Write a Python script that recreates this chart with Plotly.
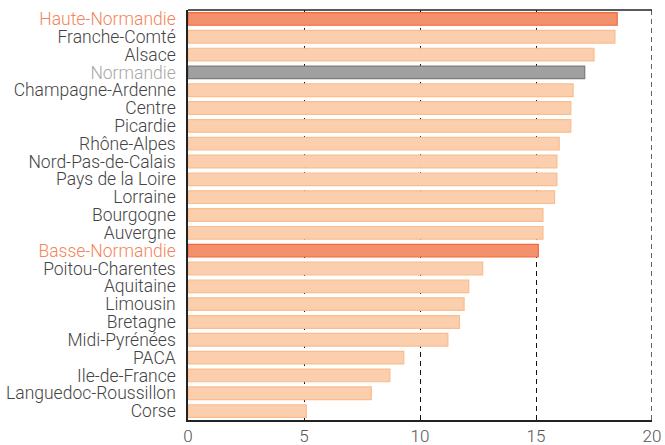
import plotly.graph_objects as go

regions = [
    "Haute-Normandie", "Franche-Comté", "Alsace", "Normandie",
    "Champagne-Ardenne", "Centre", "Picardie", "Rhône-Alpes",
    "Nord-Pas-de-Calais", "Pays de la Loire", "Lorraine", "Bourgogne",
    "Auvergne", "Basse-Normandie", "Poitou-Charentes", "Aquitaine",
    "Limousin", "Bretagne", "Midi-Pyrénées", "PACA", "Ile-de-France",
    "Languedoc-Roussillon", "Corse",
]
values = [
    18.5, 18.4, 17.5, 17.1,
    16.6, 16.5, 16.5, 16.0,
    15.9, 15.9, 15.8, 15.3,
    15.3, 15.1, 12.7, 12.1,
    11.9, 11.7, 11.2, 9.3, 8.7,
    7.9, 5.1,
]
highlight = ["Haute-Normandie", "Basse-Normandie"]
reference = ["Normandie"]
x_ticks = [0, 5, 10, 15, 20]

fills, edges, label_colors = [], [], []
for r in regions:
    if r in highlight:
        fills.append("#f5906c"); edges.append("#ef6a3c"); label_colors.append("#f4845a")
    elif r in reference:
        fills.append("#a0a0a0"); edges.append("#7c7c7c"); label_colors.append("#a8a8a8")
    else:
        fills.append("#fbcfad"); edges.append("#f9bd8f"); label_colors.append("#444444")

ticktext = [f'<span style="color:{c}">{r}</span>' for r, c in zip(regions, label_colors)]

fig = go.Figure(go.Bar(
    x=values, y=regions, orientation="h",
    marker=dict(color=fills, line=dict(color=edges, width=1.2)),
    hoverinfo="x+y",
))

# dashed line closing the right edge and solid frame line on top
fig.add_shape(type="line", xref="x", yref="paper", x0=x_ticks[-1], x1=x_ticks[-1],
              y0=0, y1=1, line=dict(color="#111111", width=1.3, dash="5px,4px"),
              layer="below")
fig.add_shape(type="line", xref="paper", yref="paper", x0=0, x1=1, y0=1, y1=1,
              line=dict(color="#222222", width=1.5))

fig.update_layout(
    width=665, height=445,
    margin=dict(l=188, r=13, t=10, b=25),
    paper_bgcolor="white", plot_bgcolor="white",
    bargap=0.29, showlegend=False,
    font=dict(family="Roboto", color="#444444"),
)
fig.update_xaxes(
    range=[0, 20], tickvals=x_ticks, ticktext=[str(t) for t in x_ticks],
    showgrid=True, gridcolor="#111111", gridwidth=1.3, griddash="5px,4px",
    showline=True, linecolor="#222222", linewidth=1.5,
    zeroline=False, ticks="", automargin=False, ticklabelstandoff=0,
    tickfont=dict(family="Roboto", size=17, color="#555555", weight=300),
)
fig.update_yaxes(
    categoryorder="array", categoryarray=regions, autorange="reversed",
    tickvals=regions, ticktext=ticktext,
    showgrid=False, showline=True, linecolor="#222222", linewidth=1.5,
    ticks="", ticklabelstandoff=7, automargin=False,
    tickfont=dict(family="Roboto", size=17.5, color="#444444", weight=300),
)

fig.write_html("out.html")
